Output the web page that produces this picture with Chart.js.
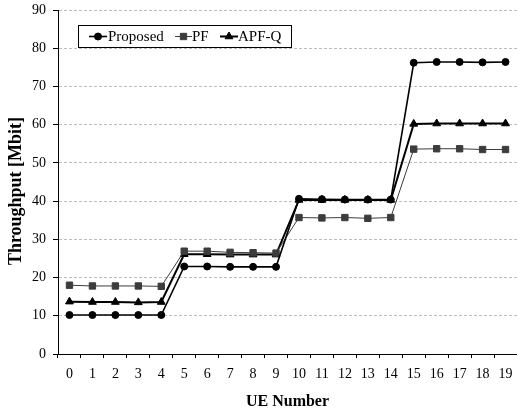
<!DOCTYPE html>
<html>
<head>
<meta charset="utf-8">
<script src="https://cdn.jsdelivr.net/npm/chart.js@4/dist/chart.umd.min.js"></script>
<style>
html,body{margin:0;padding:0;background:#fff;}
#wrap{width:517px;height:411px;position:relative;}
</style>
</head>
<body>
<div id="wrap"><canvas id="c" width="517" height="411"></canvas></div>
<script>
const categories = ['0','1','2','3','4','5','6','7','8','9','10','11','12','13','14','15','16','17','18','19'];
const proposed = [10.2,10.2,10.2,10.2,10.2, 22.9,22.9,22.8,22.8,22.8, 40.6,40.5,40.4,40.4,40.4, 76.2,76.4,76.4,76.3,76.4];
const pf       = [18.0,17.8,17.8,17.8,17.7, 26.9,26.9,26.6,26.5,26.4, 35.7,35.6,35.7,35.5,35.7, 53.6,53.7,53.7,53.5,53.5];
const apfq     = [13.7,13.6,13.6,13.5,13.6, 26.1,26.1,26.0,26.0,26.0, 40.3,40.3,40.3,40.3,40.3, 60.2,60.3,60.3,60.3,60.3];
const yTicks   = [0,10,20,30,40,50,60,70,80,90];

const serif = "'Liberation Serif','DejaVu Serif',serif";

const legendPlugin = {
  id: 'boxLegend',
  afterDraw(chart) {
    const ctx = chart.ctx;
    ctx.save();
    const bx = 78.5, by = 25.5, bw = 213, bh = 22;
    ctx.fillStyle = '#fff';
    ctx.fillRect(bx, by, bw, bh);
    ctx.strokeStyle = '#000';
    ctx.lineWidth = 1;
    ctx.strokeRect(bx, by, bw, bh);
    const cy = by + bh / 2;
    const items = [{x1: 89, x2: 107, tx: 108}, {x1: 175, x2: 192, tx: 192}, {x1: 220, x2: 238, tx: 238}];
    chart.data.datasets.forEach((ds, i) => {
      const it = items[i];
      ctx.strokeStyle = ds.borderColor;
      ctx.lineWidth = ds.borderWidth;
      ctx.beginPath(); ctx.moveTo(it.x1, cy); ctx.lineTo(it.x2, cy); ctx.stroke();
      ctx.fillStyle = ds.pointBackgroundColor;
      ctx.strokeStyle = ds.pointBorderColor;
      ctx.lineWidth = 1;
      Chart.helpers.drawPoint(ctx, {pointStyle: ds.pointStyle, radius: ds.pointRadius, borderWidth: 1, rotation: 0}, (it.x1 + it.x2) / 2, cy);
      ctx.fillStyle = '#000';
      ctx.font = "15px " + serif;
      ctx.textBaseline = 'middle';
      ctx.textAlign = 'left';
      ctx.fillText(ds.label, it.tx, cy + 1);
    });
    ctx.restore();
  }
};

const yTitlePlugin = {
  id: 'yTitle',
  afterDraw(chart) {
    const ctx = chart.ctx;
    ctx.save();
    ctx.translate(16, 191);
    ctx.rotate(-Math.PI / 2);
    ctx.font = "bold 18px " + serif;
    ctx.fillStyle = '#000';
    ctx.textAlign = 'center';
    ctx.textBaseline = 'middle';
    ctx.fillText('Throughput [Mbit]', 0, 0);
    ctx.restore();
  }
};

function mkDs(label, data, color, lineW, style, radius) {
  return {
    label, data,
    borderColor: color, backgroundColor: color,
    pointBackgroundColor: color, pointBorderColor: color,
    borderWidth: lineW, pointStyle: style, pointRadius: radius, pointBorderWidth: 1,
    pointHoverRadius: radius, tension: 0, fill: false, clip: false
  };
}

new Chart(document.getElementById('c'), {
  type: 'line',
  data: {
    labels: categories,
    datasets: [
      mkDs('Proposed', proposed, '#000000', 1.6, 'circle', 3.5),
      mkDs('PF', pf, '#3c3c3c', 1, 'rect', 4.5),
      mkDs('APF-Q', apfq, '#000000', 2, 'triangle', 4.5)
    ]
  },
  options: {
    responsive: false,
    animation: false,
    devicePixelRatio: 1,
    layout: {autoPadding: false, padding: {top: 10, right: 0, left: 0, bottom: 0}},
    plugins: {legend: {display: false}, tooltip: {enabled: false}},
    scales: {
      x: {
        type: 'category',
        offset: true,
        grid: {offset: true, drawOnChartArea: false, drawTicks: true, tickLength: 4, tickColor: '#000', tickWidth: 1},
        border: {color: '#000', width: 1},
        ticks: {color: '#000', font: {family: serif, size: 14}, padding: 8, maxRotation: 0, autoSkip: false},
        title: {display: true, text: 'UE Number', color: '#000', font: {family: serif, size: 16, weight: 'bold'}, padding: {top: 4, bottom: 0}},
        afterFit(s) { s.height = 57; s.paddingLeft = 0; s.paddingRight = 0; }
      },
      y: {
        min: 0, max: 90,
        afterBuildTicks(s) { s.ticks = yTicks.map(v => ({value: v})); },
        grid: {color: (c) => c.tick && c.tick.value === 0 ? 'rgba(0,0,0,0)' : '#bdbdbd', tickColor: '#000', tickLength: 5, tickWidth: 1, lineWidth: 1, tickBorderDash: []},
        border: {color: '#000', width: 1, dash: [3, 2]},
        ticks: {color: '#000', font: {family: serif, size: 14}, padding: 7},
        title: {display: false},
        afterFit(s) { s.width = 58; s.paddingTop = 0; s.paddingBottom = 0; }
      }
    }
  },
  plugins: [yTitlePlugin, legendPlugin]
});
</script>
</body>
</html>
